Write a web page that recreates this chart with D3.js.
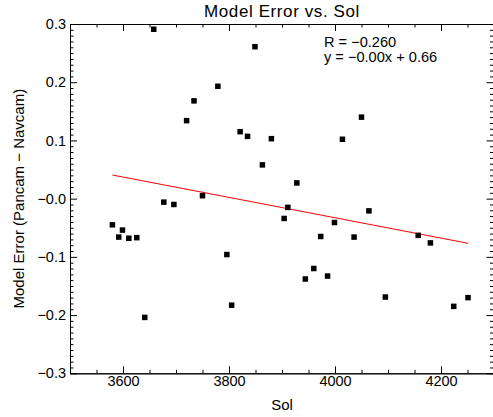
<!DOCTYPE html>
<html>
<head>
<meta charset="utf-8">
<script src="https://cdn.jsdelivr.net/npm/d3@7"></script>
<style>
  html, body { margin: 0; padding: 0; background: #fff; }
  svg { display: block; }
  text { font-family: "Liberation Sans", Arial, Helvetica, sans-serif; fill: #000; }
</style>
</head>
<body>
<svg id="chart" width="493" height="417"></svg>
<script>
// ---- data ----
const sols = [3580, 3592, 3599, 3611, 3626, 3641, 3658, 3677, 3696, 3720,
              3734, 3750, 3779, 3796, 3805, 3821, 3835, 3849, 3863, 3880,
              3904, 3911, 3928, 3944, 3960, 3973, 3986, 3999, 4014, 4036,
              4050, 4064, 4095, 4157, 4180, 4224, 4251];
const errors = [-0.045, -0.066, -0.054, -0.068, -0.067, -0.204, 0.291, -0.006, -0.010, 0.134,
                0.168, 0.005, 0.193, -0.096, -0.183, 0.115, 0.107, 0.261, 0.058, 0.103,
                -0.034, -0.015, 0.027, -0.138, -0.120, -0.065, -0.133, -0.041, 0.102, -0.066,
                0.140, -0.021, -0.169, -0.063, -0.076, -0.185, -0.170];
const fitX = [3580, 4251];
const fitY = [0.0406, -0.0767];
const xMajorTicks = [3600, 3800, 4000, 4200];
const xMinorTicks = [3550, 3650, 3700, 3750, 3850, 3900, 3950, 4050, 4100, 4150, 4250];
const yMajorTicks = [0.3, 0.2, 0.1, 0.0, -0.1, -0.2, -0.3];
const yTickLabels = ["0.3", "0.2", "0.1", "\u22120.0", "\u22120.1", "\u22120.2", "\u22120.3"];
const yMinorTicks = d3.range(-30, 31).filter(v => v % 10 !== 0).map(v => v / 100);
const titleText = "Model Error vs. Sol";
const xLabel = "Sol";
const yLabel = "Model Error (Pancam \u2212 Navcam)";
const annotations = ["R = \u22120.260", "y = \u22120.00x + 0.66"];

(function () {
// ---- layout ----
const mLeft = 70, mRight = 494, mTop = 24, mBottom = 373.3;
const svg = d3.select("#chart");
svg.append("rect").attr("width", 493).attr("height", 417).attr("fill", "#fff");

const x = d3.scaleLinear().domain([3500, 4300]).range([mLeft, mRight]);
const y = d3.scaleLinear().domain([-0.3, 0.3]).range([mBottom, mTop]);

function styleAxis(g) {
  g.selectAll("path.domain").attr("stroke", "#000").attr("stroke-width", 1);
  g.selectAll(".tick line").attr("stroke", "#000").attr("stroke-width", 1);
  g.selectAll("text").attr("font-size", "14.5px")
    .attr("font-family", '"Liberation Sans", Arial, Helvetica, sans-serif').attr("fill", "#000");
}

// bottom axis
svg.append("g").attr("transform", `translate(0,${mBottom})`)
  .call(d3.axisBottom(x).tickValues(xMinorTicks).tickSizeInner(-3.5).tickSizeOuter(0).tickFormat(""))
  .call(styleAxis);
svg.append("g").attr("transform", `translate(0,${mBottom})`)
  .call(d3.axisBottom(x).tickValues(xMajorTicks).tickSizeInner(-7).tickSizeOuter(0).tickPadding(2.6).tickFormat(d3.format("d")))
  .call(styleAxis);
// top axis
svg.append("g").attr("transform", `translate(0,${mTop})`)
  .call(d3.axisTop(x).tickValues(xMinorTicks).tickSizeInner(-3.5).tickSizeOuter(0).tickFormat(""))
  .call(styleAxis);
svg.append("g").attr("transform", `translate(0,${mTop})`)
  .call(d3.axisTop(x).tickValues(xMajorTicks).tickSizeInner(-7).tickSizeOuter(0).tickFormat(""))
  .call(styleAxis);
// left axis
svg.append("g").attr("transform", `translate(${mLeft},0)`)
  .call(d3.axisLeft(y).tickValues(yMinorTicks).tickSizeInner(-3.5).tickSizeOuter(0).tickFormat(""))
  .call(styleAxis);
svg.append("g").attr("transform", `translate(${mLeft},0)`)
  .call(d3.axisLeft(y).tickValues(yMajorTicks).tickSizeInner(-7).tickSizeOuter(0).tickPadding(4)
        .tickFormat((d, i) => yTickLabels[i]))
  .call(styleAxis);
// right axis
svg.append("g").attr("transform", `translate(${mRight - 0.5},0)`)
  .call(d3.axisRight(y).tickValues(yMinorTicks).tickSizeInner(-3.5).tickSizeOuter(0).tickFormat(""))
  .call(styleAxis);
svg.append("g").attr("transform", `translate(${mRight - 0.5},0)`)
  .call(d3.axisRight(y).tickValues(yMajorTicks).tickSizeInner(-7).tickSizeOuter(0).tickFormat(""))
  .call(styleAxis);

// fit line
svg.append("path")
  .datum(fitX.map((v, i) => [v, fitY[i]]))
  .attr("fill", "none").attr("stroke", "#ff0000").attr("stroke-width", 1)
  .attr("d", d3.line().x(d => x(d[0])).y(d => y(d[1])));

// points
const sz = 5.5;
svg.append("g").selectAll("rect").data(sols.map((s, i) => [s, errors[i]])).join("rect")
  .attr("x", d => x(d[0]) - sz / 2).attr("y", d => y(d[1]) - sz / 2)
  .attr("width", sz).attr("height", sz).attr("fill", "#000");

// title
svg.append("text").attr("x", (mLeft + mRight) / 2).attr("y", 16.5)
  .attr("text-anchor", "middle").attr("font-size", "17px").attr("letter-spacing", "0.6px")
  .text(titleText);

// annotations
annotations.forEach((t, i) => {
  svg.append("text").attr("x", 324).attr("y", 46.7 + i * 15.6)
    .attr("font-size", "14.6px").text(t);
});

// axis labels
svg.append("text").attr("x", (mLeft + mRight) / 2).attr("y", 410)
  .attr("text-anchor", "middle").attr("font-size", "15px").text(xLabel);
svg.append("text").attr("transform", `translate(24,${(mTop + mBottom) / 2}) rotate(-90)`)
  .attr("text-anchor", "middle").attr("font-size", "15px").text(yLabel);
})();
</script>
</body>
</html>
